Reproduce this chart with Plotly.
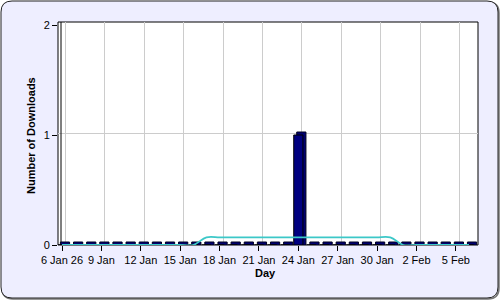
import plotly.graph_objects as go
from datetime import datetime, timedelta

# ---------------- data ----------------
days = [
    "2026-01-06", "2026-01-07", "2026-01-08", "2026-01-09", "2026-01-10", "2026-01-11",
    "2026-01-12", "2026-01-13", "2026-01-14", "2026-01-15", "2026-01-16", "2026-01-17",
    "2026-01-18", "2026-01-19", "2026-01-20", "2026-01-21", "2026-01-22", "2026-01-23",
    "2026-01-24", "2026-01-25", "2026-01-26", "2026-01-27", "2026-01-28", "2026-01-29",
    "2026-01-30", "2026-01-31", "2026-02-01", "2026-02-02", "2026-02-03", "2026-02-04",
    "2026-02-05", "2026-02-06",
]
downloads = [0, 0, 0, 0, 0, 0, 0, 0, 0, 0, 0, 0, 0, 0, 0, 0, 0, 0,
             1, 0, 0, 0, 0, 0, 0, 0, 0, 0, 0, 0, 0, 0]
average = [0, 0, 0, 0, 0, 0, 0, 0, 0, 0, 0,
           0.07, 0.07, 0.07, 0.07, 0.07, 0.07, 0.07, 0.07, 0.07, 0.07, 0.07, 0.07, 0.07, 0.07, 0.07,
           0, 0, 0, 0, 0, 0]
tick_vals = ["2026-01-06", "2026-01-09", "2026-01-12", "2026-01-15", "2026-01-18", "2026-01-21",
             "2026-01-24", "2026-01-27", "2026-01-30", "2026-02-02", "2026-02-05"]
tick_text = ["6 Jan 26", "9 Jan", "12 Jan", "15 Jan", "18 Jan", "21 Jan",
             "24 Jan", "27 Jan", "30 Jan", "2 Feb", "5 Feb"]
y_ticks = [0, 1, 2]

# ---------------- geometry ----------------
W, H = 500, 300
L, R, T, B = 58, 478, 22, 245
PX_PER_DAY = 13.13
PX_PER_UNIT = 110.0
DAY_MS = 86400000
FIRST = datetime(2026, 1, 6)

x_start = FIRST - timedelta(days=4 / PX_PER_DAY)
x_end = x_start + timedelta(days=(R - L) / PX_PER_DAY)
y_top = (B - T) / PX_PER_UNIT

grid_dx = timedelta(days=3.5 / PX_PER_DAY)
grid_dy = 2 / PX_PER_UNIT

depth_px = 3
bar_w = 0.7 * DAY_MS
dx_ms = depth_px / PX_PER_DAY * DAY_MS
dy = depth_px / PX_PER_UNIT


def fx(p):
    return (p - L) / (R - L)


def fy(p):
    return (B - p) / (B - T)


def rounded_path(x0, y0, x1, y1, r):
    rx = r / (R - L)
    ry = r / (B - T)
    X0, X1 = fx(x0), fx(x1)
    Y0, Y1 = fy(y0), fy(y1)
    return (f"M {X0+rx},{Y0} L {X1-rx},{Y0} Q {X1},{Y0} {X1},{Y0-ry} "
            f"L {X1},{Y1+ry} Q {X1},{Y1} {X1-rx},{Y1} "
            f"L {X0+rx},{Y1} Q {X0},{Y1} {X0},{Y1+ry} "
            f"L {X0},{Y0-ry} Q {X0},{Y0} {X0+rx},{Y0} Z")


fig = go.Figure()

# depth (side/top faces) of the 3D bars
fig.add_trace(go.Bar(
    x=days, y=[v + dy for v in downloads], base=0,
    width=bar_w, offset=-bar_w / 2 + dx_ms,
    marker=dict(color="#000070", line=dict(color="#000020", width=1)),
    showlegend=False, hoverinfo="skip",
))
# front faces
fig.add_trace(go.Bar(
    x=days, y=downloads,
    width=bar_w, offset=-bar_w / 2,
    marker=dict(color="#000080", line=dict(color="black", width=1)),
    showlegend=False,
))
# average line
fig.add_trace(go.Scatter(
    x=days, y=average, mode="lines", cliponaxis=False,
    line=dict(color="#3CC8C8", width=1.8, shape="spline", smoothing=1),
    showlegend=False,
))
# empty trace to host the gridline overlay axes
fig.add_trace(go.Scatter(x=[], y=[], xaxis="x2", yaxis="y2", showlegend=False))

shapes = [
    dict(type="path", xref="paper", yref="paper", layer="below",
         path=rounded_path(2, 2, 499, 299, 11),
         fillcolor="rgba(0,0,0,0)", line=dict(color="#777777", width=1.5)),
    dict(type="path", xref="paper", yref="paper", layer="below",
         path=rounded_path(1, 1, 498, 298, 11),
         fillcolor="#EEEEFF", line=dict(color="#222222", width=1)),
    dict(type="rect", xref="paper", yref="paper", layer="below",
         x0=fx(L), x1=fx(R), y0=fy(B), y1=fy(T),
         fillcolor="white", line=dict(color="black", width=1)),
    dict(type="line", xref="paper", yref="paper", layer="above",
         x0=fx(L + 3), x1=fx(L + 3), y0=fy(T), y1=fy(B - 3),
         line=dict(color="black", width=1)),
]

font = "Liberation Sans, Arial, sans-serif"
annotations = [
    dict(text="<b>Day</b>", xref="paper", yref="paper", x=fx(265), y=fy(273),
         showarrow=False, font=dict(family=font, size=11, color="black"),
         xanchor="center", yanchor="middle"),
    dict(text="<b>Number of Downloads</b>", xref="paper", yref="paper",
         x=fx(31), y=fy(136), textangle=-90, showarrow=False,
         font=dict(family=font, size=11, color="black"),
         xanchor="center", yanchor="middle"),
]

fig.update_layout(
    width=W, height=H,
    margin=dict(l=L, r=W - R, t=T, b=H - B, pad=0),
    paper_bgcolor="white",
    plot_bgcolor="rgba(0,0,0,0)",
    barmode="overlay",
    showlegend=False,
    font=dict(family=font, size=11, color="black"),
    shapes=shapes,
    annotations=annotations,
    xaxis=dict(
        type="date", range=[x_start, x_end],
        tickmode="array", tickvals=tick_vals, ticktext=tick_text,
        ticks="outside", ticklen=5, tickcolor="black", tickwidth=1,
        showgrid=False, zeroline=False, showline=False,
        tickfont=dict(family=font, size=11, color="black"),
    ),
    yaxis=dict(
        range=[0, y_top], tickmode="array", tickvals=y_ticks,
        ticks="outside", ticklen=5, tickcolor="black", tickwidth=1,
        showgrid=False, zeroline=False, showline=False,
        tickfont=dict(family=font, size=11, color="black"),
    ),
    xaxis2=dict(
        type="date", overlaying="x", side="top",
        range=[x_start - grid_dx, x_end - grid_dx],
        tickmode="array", tickvals=tick_vals,
        showticklabels=False, ticks="", showgrid=True,
        gridcolor="#CCCCCC", gridwidth=1, zeroline=False, showline=False,
    ),
    yaxis2=dict(
        overlaying="y", side="right",
        range=[0 - grid_dy, y_top - grid_dy],
        tickmode="array", tickvals=[1, 2],
        showticklabels=False, ticks="", showgrid=True,
        gridcolor="#CCCCCC", gridwidth=1, zeroline=False, showline=False,
    ),
)

fig.write_html("out.html")
